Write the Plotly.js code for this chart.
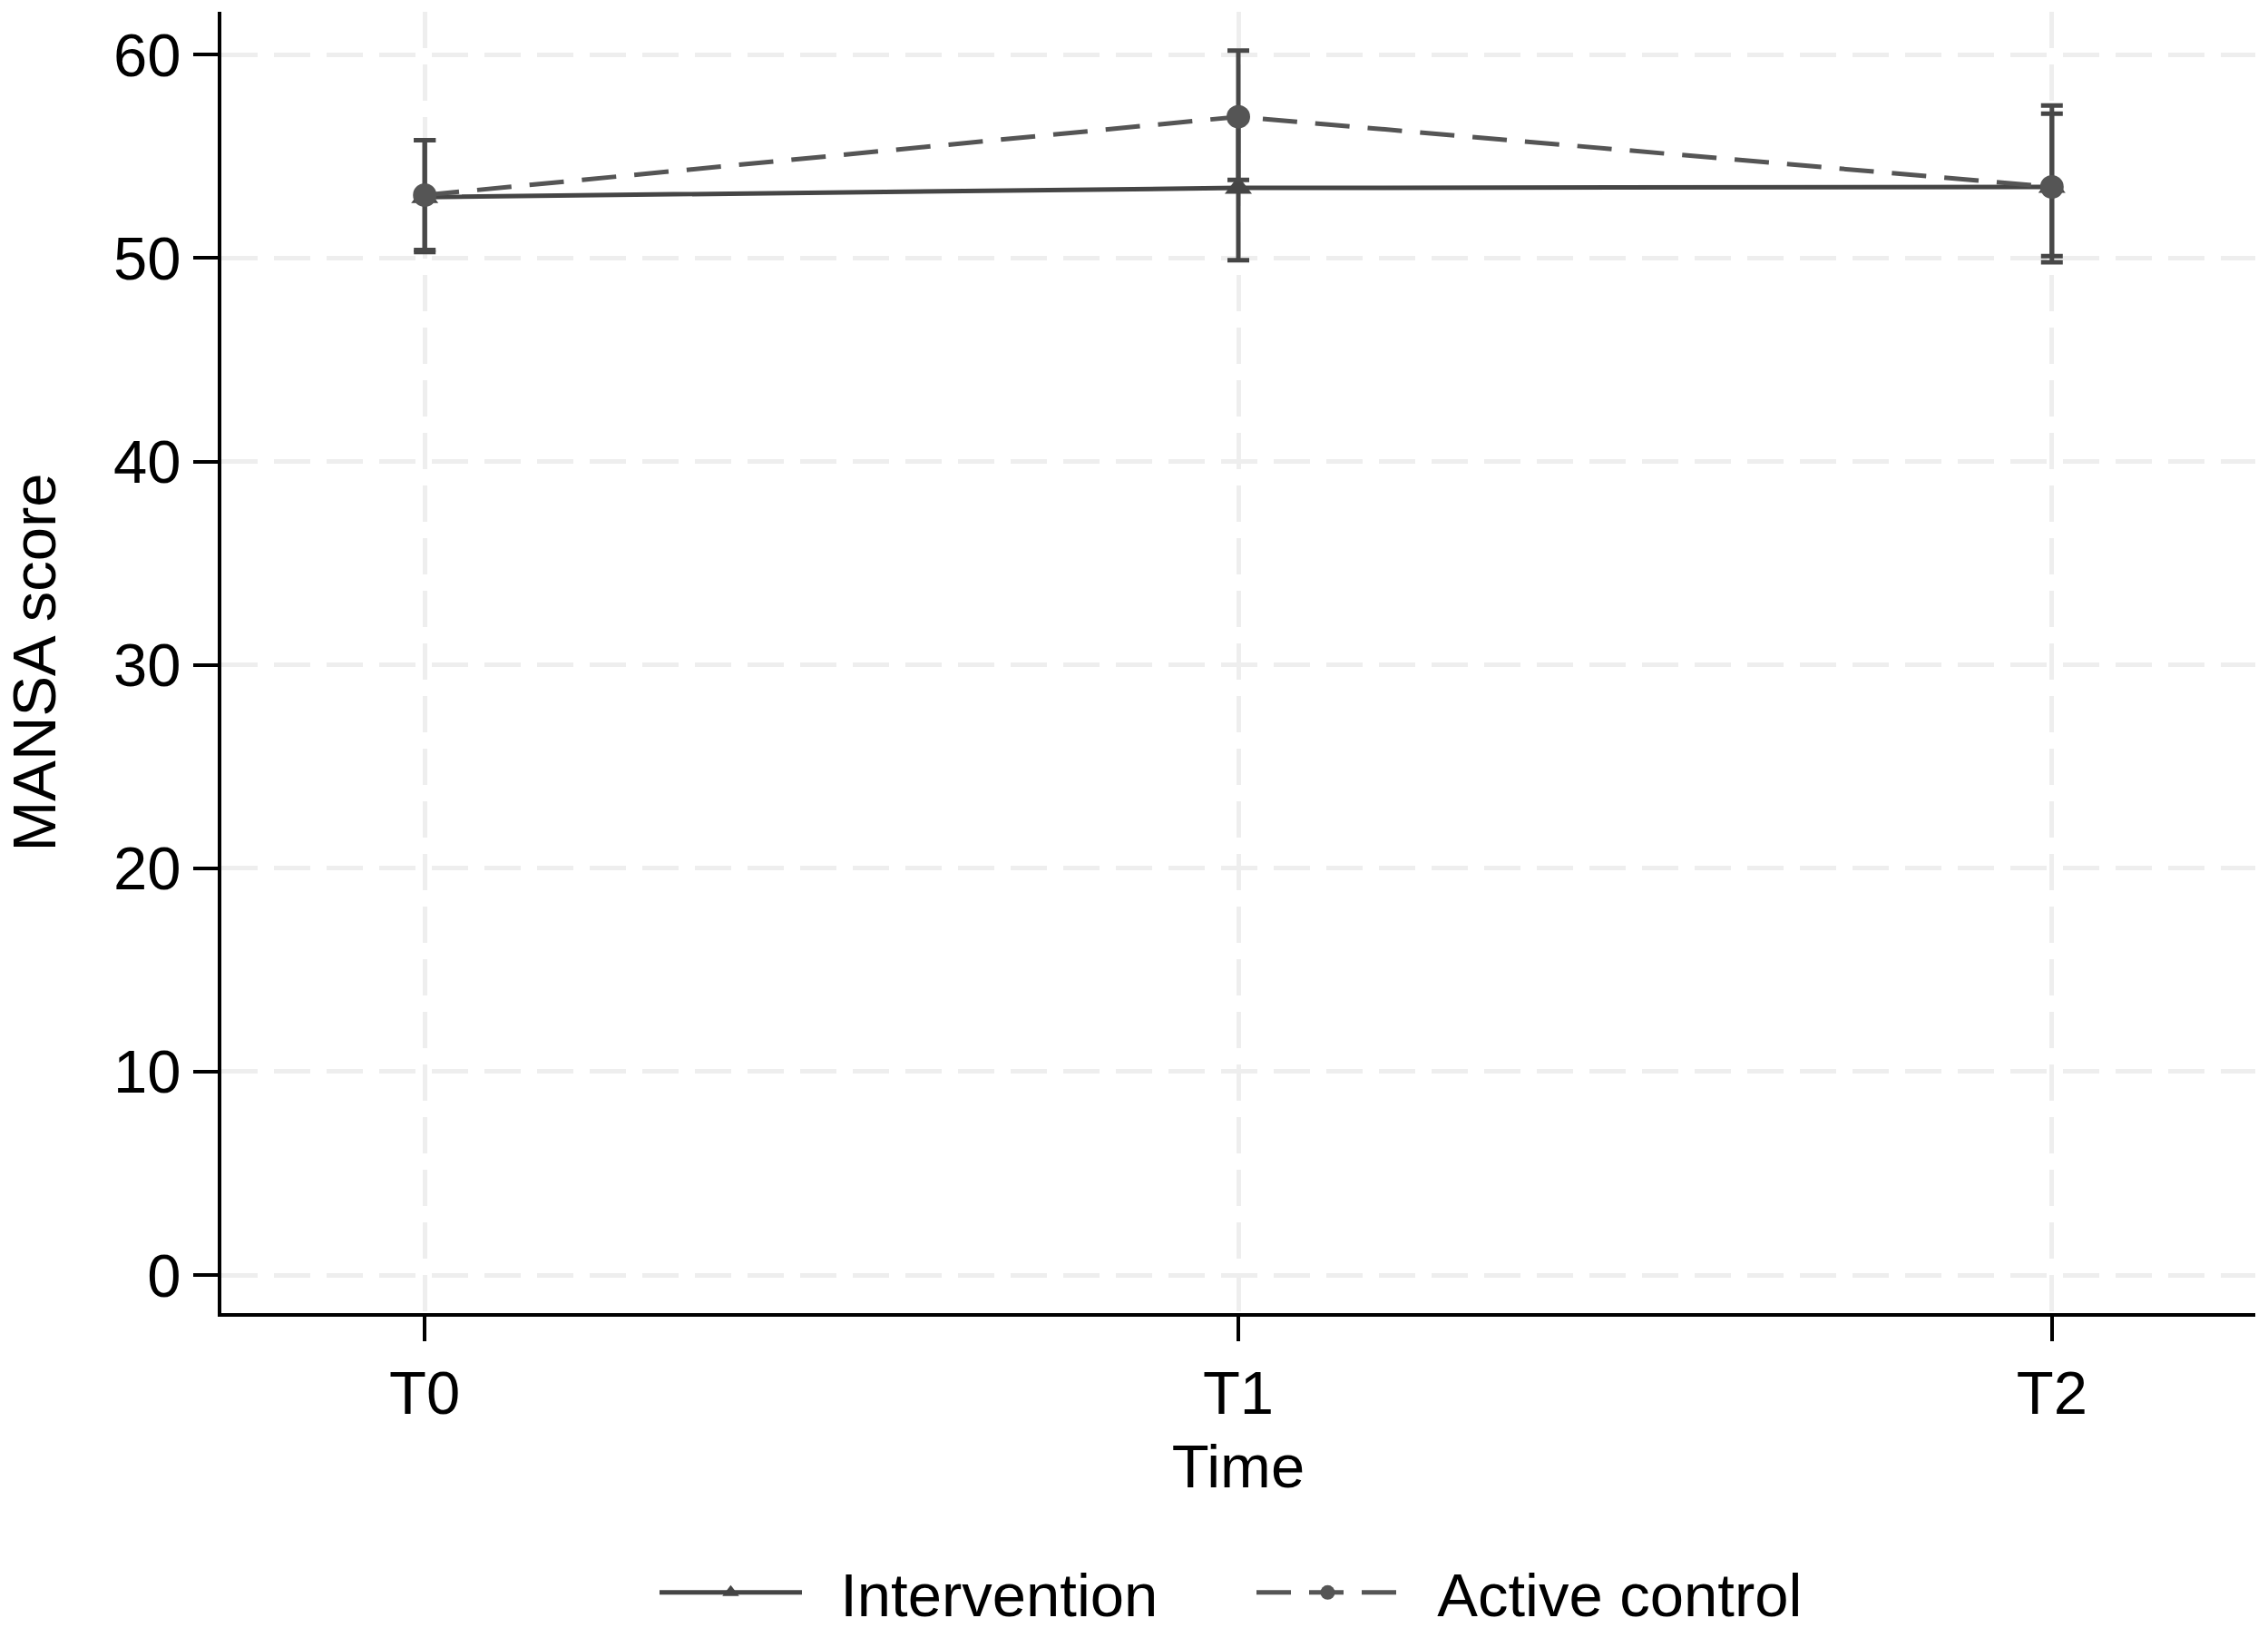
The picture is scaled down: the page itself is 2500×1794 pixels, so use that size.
<!DOCTYPE html>
<html>
<head>
<meta charset="utf-8">
<script src="https://cdn.plot.ly/plotly-3.0.1.min.js"></script>
<style>html,body{margin:0;padding:0;background:#fff;}#chart{width:2500px;height:1794px;}</style>
</head>
<body>
<div id="chart"></div>
<script>
// Data
const timeLabels = ["T0", "T1", "T2"];
const interventionMean = [53.0, 53.45, 53.5];
const interventionLower = [50.3, 49.9, 50.1];
const interventionUpper = [55.8, 57.0, 57.1];
const controlMean = [53.1, 56.95, 53.5];
const controlLower = [50.4, 53.85, 49.8];
const controlUpper = [55.8, 60.2, 57.5];
const yTicks = [0, 10, 20, 30, 40, 50, 60];
const seriesNames = ["Intervention", "Active control"];

const FONT = "Liberation Sans, Arial, Helvetica, sans-serif";
const FS = 67;
const minus = (m, lo) => m.map((v, i) => v - lo[i]);
const plus = (m, hi) => m.map((v, i) => hi[i] - v);
const GAP = "\u00a0\u00a0";

const traces = [
  {
    x: timeLabels, y: interventionMean, name: GAP + seriesNames[0],
    type: "scatter", mode: "lines+markers",
    line: {color: "#454545", width: 5, dash: "solid"},
    marker: {symbol: "triangle-up", size: 26, color: "#454545"},
    error_y: {type: "data", symmetric: false, array: plus(interventionMean, interventionUpper),
              arrayminus: minus(interventionMean, interventionLower),
              color: "#454545", thickness: 5, width: 12}
  },
  {
    x: timeLabels, y: controlMean, name: GAP + seriesNames[1],
    type: "scatter", mode: "lines+markers",
    line: {color: "#555555", width: 5, dash: "38px,20px"},
    marker: {symbol: "circle", size: 26, color: "#555555"},
    error_y: {type: "data", symmetric: false, array: plus(controlMean, controlUpper),
              arrayminus: minus(controlMean, controlLower),
              color: "#484848", thickness: 5, width: 12}
  }
];

const layout = {
  width: 2500, height: 1794,
  paper_bgcolor: "#ffffff", plot_bgcolor: "#ffffff",
  margin: {l: 244, r: 14, t: 13, b: 347, pad: 0, autoexpand: false},
  font: {family: FONT, size: FS, color: "#000000"},
  showlegend: true,
  legend: {
    orientation: "h", x: 0.2132, xanchor: "left", y: -0.2150, yanchor: "middle",
    font: {family: FONT, size: FS, color: "#000000"},
    itemwidth: 157, entrywidth: 486, entrywidthmode: "pixels",
    bgcolor: "rgba(0,0,0,0)", borderwidth: 0
  },
  xaxis: {
    type: "category", range: [-0.25, 2.25],
    tickvals: timeLabels, ticktext: timeLabels,
    showline: true, linecolor: "#000000", linewidth: 4,
    ticks: "outside", ticklen: 27, tickwidth: 4, tickcolor: "#000000",
    tickfont: {family: FONT, size: FS, color: "#000000"},
    showgrid: true, gridcolor: "#eeeeee", gridwidth: 5, griddash: "40px,18px",
    zeroline: false, automargin: false,
    title: {text: "Time", font: {family: FONT, size: FS, color: "#000000"}, standoff: 22}
  },
  yaxis: {
    range: [-1.87, 62.11], tickvals: yTicks,
    showline: true, linecolor: "#000000", linewidth: 4,
    ticks: "outside", ticklen: 27, tickwidth: 4, tickcolor: "#000000",
    tickfont: {family: FONT, size: FS, color: "#000000"},
    showgrid: true, gridcolor: "#eeeeee", gridwidth: 5, griddash: "40px,18px",
    zeroline: false, automargin: false,
    title: {text: "MANSA score", font: {family: FONT, size: FS, color: "#000000"}, standoff: 55}
  }
};

Plotly.newPlot("chart", traces, layout, {displayModeBar: false, staticPlot: true});
</script>
</body>
</html>
